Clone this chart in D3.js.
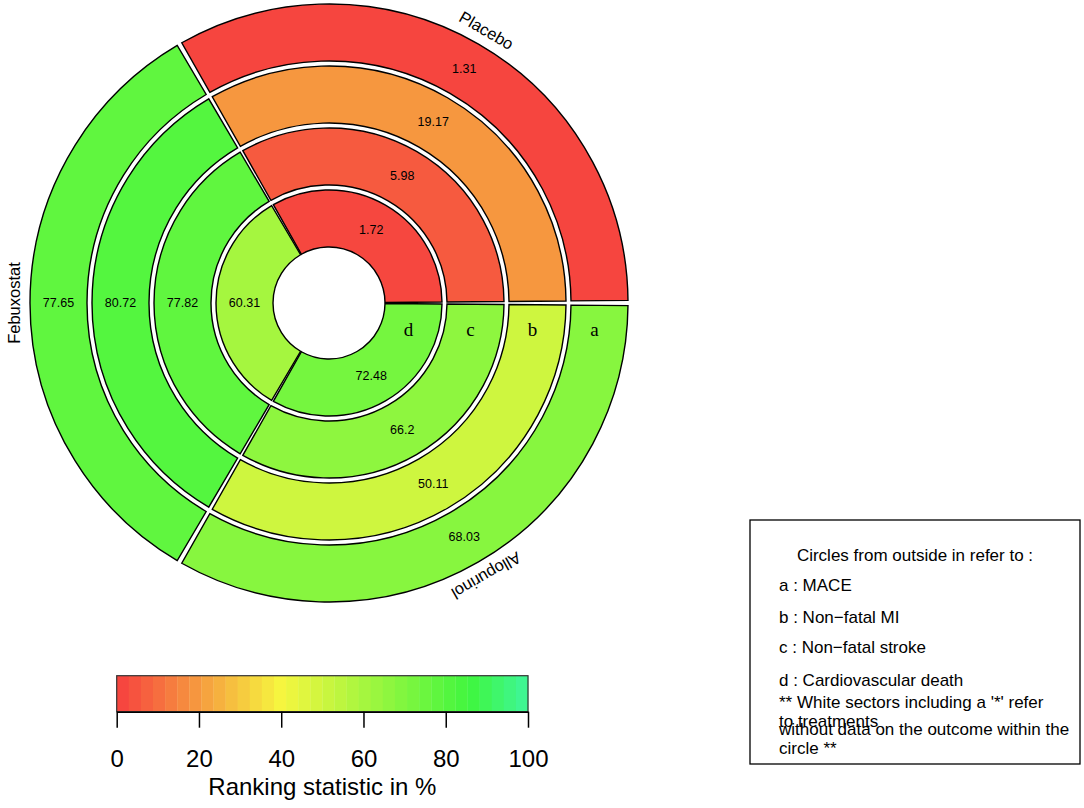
<!DOCTYPE html>
<html>
<head>
<meta charset="utf-8">
<script src="https://cdn.jsdelivr.net/npm/d3@7"></script>
<style>
  body { margin: 0; background: #fff; }
  text { font-family: "Liberation Sans", Arial, sans-serif; }
</style>
</head>
<body>
<div id="chart"></div>
<script>
// treatments go counter-clockwise from 3 o'clock
var treatments = ["Placebo", "Febuxostat", "Allopurinol"];
var circles = ["a", "b", "c", "d"];
var outcomeNames = ["MACE", "Non\u2212fatal MI", "Non\u2212fatal stroke", "Cardiovascular death"];

// ranking statistic (%) per circle, in treatment order
var mace = [1.31, 77.65, 68.03];
var nonfatalMI = [19.17, 80.72, 50.11];
var nonfatalStroke = [5.98, 77.82, 66.2];
var cvDeath = [1.72, 60.31, 72.48];

var legendTicks = [0, 20, 40, 60, 80, 100];
var noteLines = ["** White sectors including a '*' refer", "to treatments",
  "without data on the outcome within the", "circle **"];

var width = 1084, height = 808;
var cx = 329, cy = 303;

var svg = d3.select("#chart").append("svg")
  .attr("width", width).attr("height", height);

// red -> yellow -> green -> spring green
var hue = d3.scaleLinear().domain([0, 40, 86, 100]).range([0, 60, 120, 150]).clamp(true);
var color = function(v) { return d3.hsl(hue(v), 0.91, 0.606).toString(); };

// rings: d innermost, a outermost
var radius = d3.scaleBand()
  .domain(["d", "c", "b", "a"])
  .range([56, 299])
  .paddingInner(5 / 62)
  .paddingOuter(0);

// d3 angle (clockwise from north) for treatment boundaries
var angle = d3.scaleLinear().domain([0, 3]).range([Math.PI / 2, -1.5 * Math.PI]);
var gap = 0.5 * Math.PI / 180;

var arc = d3.arc();

var rows = [
  {id: "a", vals: mace},
  {id: "b", vals: nonfatalMI},
  {id: "c", vals: nonfatalStroke},
  {id: "d", vals: cvDeath}
];

var cells = [];
rows.forEach(function(r) {
  r.vals.forEach(function(v, i) {
    cells.push({
      ring: r.id, value: v, t: i,
      innerRadius: radius(r.id),
      outerRadius: radius(r.id) + radius.bandwidth(),
      startAngle: angle(i + 1) + gap,
      endAngle: angle(i) - gap
    });
  });
});

var g = svg.append("g").attr("transform", "translate(" + cx + "," + cy + ")");

g.selectAll("path.cell")
  .data(cells)
  .enter().append("path")
  .attr("class", "cell")
  .attr("d", arc)
  .attr("fill", function(d) { return color(d.value); })
  .attr("stroke", "#000")
  .attr("stroke-width", 1.4);

g.selectAll("text.val")
  .data(cells)
  .enter().append("text")
  .attr("class", "val")
  .attr("transform", function(d) { return "translate(" + arc.centroid(d) + ")"; })
  .attr("text-anchor", "middle")
  .attr("dominant-baseline", "central")
  .style("font-size", "12.5px")
  .text(function(d) { return String(d.value); });

// ring letters just below 3 o'clock
g.selectAll("text.ring")
  .data(circles)
  .enter().append("text")
  .attr("class", "ring")
  .attr("x", function(d) { return radius(d) + radius.bandwidth() / 2 - 5; })
  .attr("y", 33)
  .attr("text-anchor", "middle")
  .style("font-family", "'Liberation Serif', 'Times New Roman', serif")
  .style("font-size", "19px")
  .text(function(d) { return d; });

// treatment names around the outside
g.selectAll("text.trt")
  .data(treatments)
  .enter().append("text")
  .attr("class", "trt")
  .attr("transform", function(d, i) {
    var a = (angle(i) + angle(i + 1)) / 2;
    var r = 309;
    var deg = a * 180 / Math.PI;
    return "translate(" + (r * Math.sin(a)) + "," + (-r * Math.cos(a)) + ") rotate(" + deg + ")";
  })
  .attr("text-anchor", "middle")
  .style("font-size", "16.5px")
  .text(function(d) { return d; });

// colour key
var x = d3.scaleLinear().domain([0, 100]).range([116.7, 528]);
var nBlocks = 34;
var blocks = d3.range(nBlocks);
var barTop = 675.7, barBottom = 711.7;

svg.selectAll("rect.key")
  .data(blocks)
  .enter().append("rect")
  .attr("class", "key")
  .attr("x", function(i) { return x(i * 100 / nBlocks); })
  .attr("width", function(i) { return x((i + 1) * 100 / nBlocks) - x(i * 100 / nBlocks) + 0.3; })
  .attr("y", barTop)
  .attr("height", barBottom - barTop)
  .attr("fill", function(i) { return color((i + 0.5) * 100 / nBlocks); });

svg.append("rect")
  .attr("x", x(0)).attr("y", barTop)
  .attr("width", x(100) - x(0)).attr("height", barBottom - barTop)
  .attr("fill", "none").attr("stroke", "#333").attr("stroke-width", 1.2);

var axis = svg.append("g")
  .attr("transform", "translate(0," + barBottom + ")")
  .call(d3.axisBottom(x).tickValues(legendTicks).tickSize(16).tickSizeOuter(0).tickPadding(22));
axis.select(".domain").attr("stroke", "#000").attr("stroke-width", 1.5);
axis.selectAll(".tick line").attr("stroke", "#000").attr("stroke-width", 1.5);
axis.selectAll(".tick text")
  .style("font-family", "'Liberation Sans', Arial, sans-serif")
  .style("font-size", "24px").attr("fill", "#000");

svg.append("text")
  .attr("x", (x(0) + x(100)) / 2).attr("y", 795)
  .attr("text-anchor", "middle")
  .style("font-size", "24px")
  .text("Ranking statistic in %");

// legend box
svg.append("rect")
  .attr("x", 750).attr("y", 520).attr("width", 330).attr("height", 244)
  .attr("fill", "none").attr("stroke", "#000").attr("stroke-width", 1.3);

svg.append("text")
  .attr("x", 915).attr("y", 561)
  .attr("text-anchor", "middle")
  .style("font-size", "17px")
  .text("Circles from outside in refer to :");

var itemY = [591, 623, 653, 686];
svg.selectAll("text.item")
  .data(circles)
  .enter().append("text")
  .attr("class", "item")
  .attr("x", 779)
  .attr("y", function(d, i) { return itemY[i]; })
  .style("font-size", "17px")
  .text(function(d, i) { return d + " : " + outcomeNames[i]; });

var noteY = [708, 727, 735, 754];
svg.selectAll("text.note")
  .data(noteLines)
  .enter().append("text")
  .attr("class", "note")
  .attr("x", 779)
  .attr("y", function(d, i) { return noteY[i]; })
  .style("font-size", "17px")
  .text(function(d) { return d; });
</script>
</body>
</html>
